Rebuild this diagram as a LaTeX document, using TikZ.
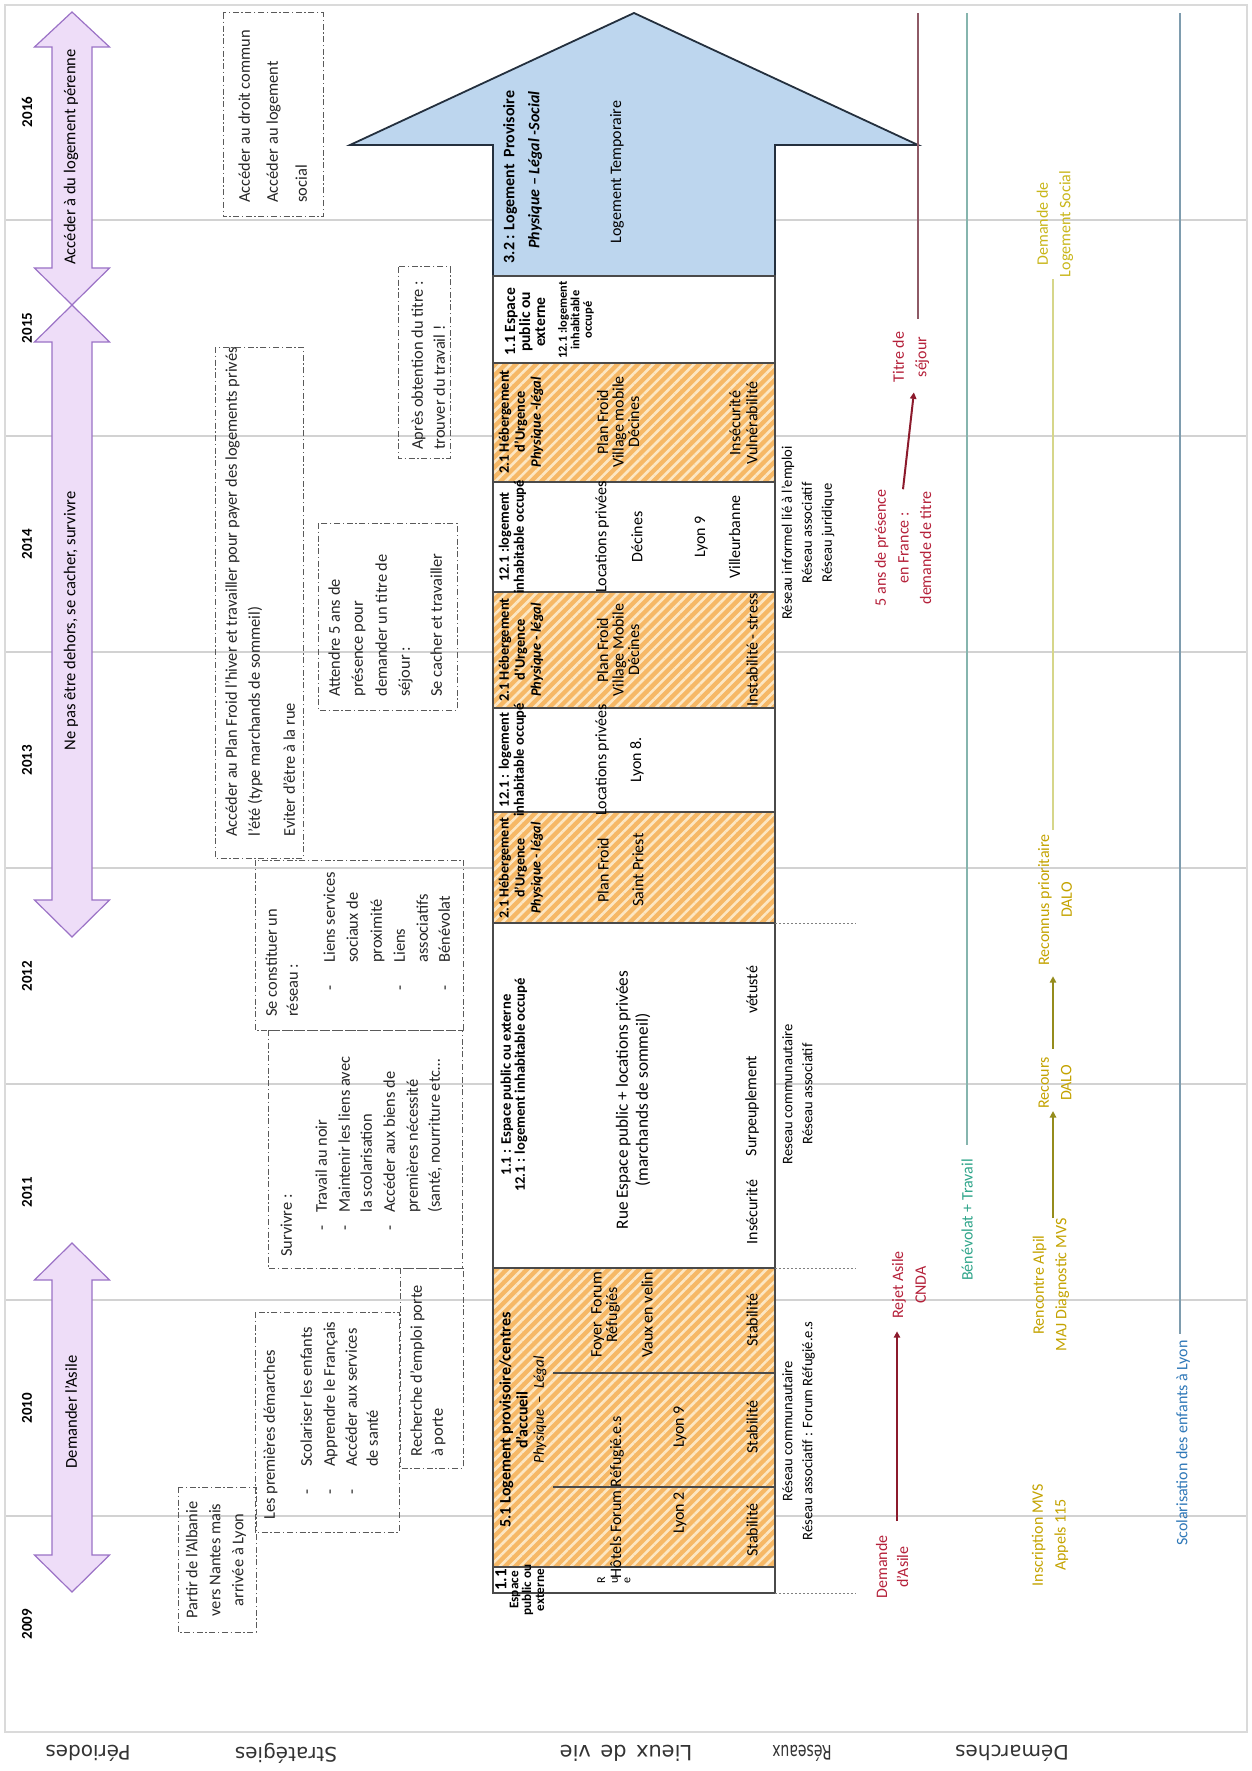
\documentclass[tikz,border=0pt]{standalone}
\usepackage{fontspec}
\usepackage{graphicx}
\setmainfont{Carlito}
\newfontfamily\rowfont{DejaVu Sans}
\usetikzlibrary{patterns.meta,arrows.meta}

\definecolor{gridc}{HTML}{D2D2D2}
\definecolor{framec}{HTML}{DADADA}
\definecolor{purfill}{HTML}{EEDDF8}
\definecolor{purline}{HTML}{9B72C6}
\definecolor{boxc}{HTML}{5A5A5A}
\definecolor{cellc}{HTML}{4A4A4A}
\definecolor{orangec}{HTML}{F6B866}
\definecolor{stripec}{HTML}{FCE7C4}
\definecolor{bluefill}{HTML}{BDD6EE}
\definecolor{bluedge}{HTML}{24303E}
\definecolor{redtxt}{HTML}{B5213A}
\definecolor{redarr}{HTML}{8C1A2C}
\definecolor{redln}{HTML}{8E5A66}
\definecolor{tealtxt}{HTML}{2FA58A}
\definecolor{tealln}{HTML}{86B5AE}
\definecolor{olivetxt}{HTML}{C4A300}
\definecolor{olivearr}{HTML}{958C1C}
\definecolor{oliveln}{HTML}{D6D68A}
\definecolor{lstxt}{HTML}{C9B61A}
\definecolor{bluetxt}{HTML}{2F78B8}
\definecolor{blueln}{HTML}{7E9CAE}

\tikzset{
  gridline/.style={draw=gridc, line width=0.6pt},
  perarrow/.style={draw=purline, fill=purfill, line width=0.6pt, line join=miter},
  pertext/.style={rotate=90, anchor=center, inner sep=0pt, font=\fontsize{8.3}{10}\selectfont},
  yearlbl/.style={rotate=90, anchor=center, inner sep=0pt, font=\fontsize{7.5}{9}\selectfont\bfseries},
  rowlbl/.style={rotate=180, anchor=center, inner sep=0pt, font=\rowfont\fontsize{10}{12}\selectfont, text=black!80},
  stratbox/.style={draw=boxc, line width=0.5pt, dash pattern=on 3pt off 1.3pt on 0.7pt off 1.3pt},
  sline/.style={rotate=90, anchor=mid west, inner sep=0pt, font=\fontsize{8.2}{10}\selectfont, text=black!85},
  sbullet/.style={rotate=90, anchor=mid, inner sep=0pt, font=\fontsize{8.2}{10}\selectfont, text=black!85},
  cellwhite/.style={fill=white},
  cellhatch/.style={fill=orangec, postaction={pattern={Lines[angle=45,distance=3.6pt,line width=1.3pt]}, pattern color=stripec}},
  cellrule/.style={draw=cellc, line width=0.6pt},
  dotext/.style={draw=gray, line width=0.5pt, dash pattern=on 1.2pt off 0.8pt},
  ctext/.style={rotate=90, anchor=center, inner sep=0pt, align=center, font=\fontsize{8}{7.75}\selectfont},
  hdr/.style={rotate=90, anchor=center, inner sep=0pt, align=center, font=\fontsize{7.2}{8}\selectfont\bfseries},
  res/.style={rotate=90, anchor=center, inner sep=0pt, align=center, font=\fontsize{7.3}{10}\selectfont},
  dem/.style={rotate=90, anchor=center, inner sep=0pt, align=center, font=\fontsize{8}{11.3}\selectfont},
  redarrow/.style={draw=redarr, line width=1pt, -{Triangle[length=3.2pt,width=3.2pt]}},
  redline/.style={draw=redln, line width=0.6pt},
  tealline/.style={draw=tealln, line width=0.6pt},
  olivearrow/.style={draw=olivearr, line width=1pt, -{Triangle[length=3.2pt,width=3.2pt]}},
  oliveline/.style={draw=oliveln, line width=0.6pt},
  bluevline/.style={draw=blueln, line width=0.6pt},
}

\begin{document}
\begin{tikzpicture}[x=0.5pt, y=-0.5pt]
\useasboundingbox (0,0) rectangle (1252,1771);
\fill[white] (0,0) rectangle (1252,1771);

% year grid and frame
\foreach \y in {220,436,652,868,1084,1300,1516}
  \draw[gridline] (5,\y) -- (1247,\y);
\draw[draw=framec, line width=0.6pt] (5,5) rectangle (1247,1732);

% years
\foreach \yr/\y in {2016/112,2015/328,2014/544,2013/760,2012/976,2011/1192,2010/1408,2009/1624}
  \node[yearlbl] (yr\yr) at (27,\y) {\yr};

% row titles under the frame
\node[rowlbl] (rowper) at (88,1753) {Périodes};
\node[rowlbl] (rowstr) at (286,1753) {Stratégies};
\node[rowlbl, font=\rowfont\fontsize{10.5}{12}\selectfont] (rowlieu) at (626,1753) {Lieux\hspace{0.45em}de\hspace{0.45em}vie};
\node[rowlbl] (rowres) at (802,1753) {\scalebox{0.7}[1]{Réseaux}};
\node[rowlbl] (rowdem) at (1012,1753) {Démarches};

% periods: double arrows
\path[perarrow] (72,12) -- (109.5,47) -- (92,47) -- (92,268) -- (109.5,268) -- (72,305)
  -- (34.5,268) -- (52,268) -- (52,47) -- (34.5,47) -- cycle;
\path[perarrow] (72,305) -- (109.5,342) -- (92,342) -- (92,900) -- (109.5,900) -- (72,937)
  -- (34.5,900) -- (52,900) -- (52,342) -- (34.5,342) -- cycle;
\path[perarrow] (72,1243) -- (109.5,1280) -- (92,1280) -- (92,1555) -- (109.5,1555) -- (72,1592)
  -- (34.5,1555) -- (52,1555) -- (52,1280) -- (34.5,1280) -- cycle;
\node[pertext] (per1) at (71,157) {Accéder à du logement pérenne};
\node[pertext] (per2) at (71,621) {Ne pas être dehors, se cacher, survivre};
\node[pertext] (per3) at (71,1412) {Demander l'Asile};

% strategies: dashed boxes
\draw[stratbox] (223,13) rectangle (323,217);
\foreach \x/\t [count=\i] in {245/{Accéder au droit commun},273/{Accéder au logement},302/social}
  \node[sline] (sa\i) at (\x,203) {\t};

\draw[stratbox] (215,347) rectangle (303,858);
\foreach \x/\t [count=\i] in {232/{Accéder au Plan Froid l'hiver et travailler pour payer des logements privés},255/{l'été (type marchands de sommeil)},290/{Eviter d'être à la rue}}
  \node[sline] (sb\i) at (\x,837) {\t};

\draw[stratbox] (398,267) rectangle (450,458);
\foreach \x/\t [count=\i] in {418/{Après obtention du titre :},440/{trouver du travail !}}
  \node[sline] (sc\i) at (\x,450) {\t};

\draw[stratbox] (318,523) rectangle (457,710);
\foreach \x/\t [count=\i] in {335/{Attendre 5 ans de},358/{présence pour},382/{demander un titre de},405/{séjour :},437/{Se cacher et travailler}}
  \node[sline] (sd\i) at (\x,697) {\t};

\draw[stratbox] (255,860) rectangle (463,1030);
\foreach \x/\t [count=\i] in {272/{Se constituer un},293/{réseau :}}
  \node[sline] (se\i) at (\x,1017) {\t};
\foreach \x/\t [count=\i] in {330/{Liens services},353/{sociaux de},377/{proximité},400/{Liens},423/{associatifs},445/{Bénévolat}}
  \node[sline] (sel\i) at (\x,963) {\t};
\foreach \x [count=\i] in {330,400,445}
  \node[sbullet] (seb\i) at (\x,988) {-};

\draw[stratbox] (268,1030) rectangle (462,1268);
\node[sline] (sf0) at (287,1257) {Survivre :};
\foreach \x/\t [count=\i] in {322/{Travail au noir},345/{Maintenir les liens avec},367/{la scolarisation},390/{Accéder aux biens de},413/{premières nécessité},435/{(santé, nourriture etc…}}
  \node[sline] (sfl\i) at (\x,1213) {\t};
\foreach \x [count=\i] in {322,345,390}
  \node[sbullet] (sfb\i) at (\x,1228) {-};

\draw[stratbox] (400,1268) rectangle (463,1468);
\foreach \x/\t [count=\i] in {417/{Recherche d'emploi porte},438/{à porte}}
  \node[sline] (sg\i) at (\x,1457) {\t};

\draw[stratbox] (255,1312) rectangle (399,1532);
\node[sline] (sh0) at (270,1520) {Les premières démarches};
\foreach \x/\t [count=\i] in {307/{Scolariser les enfants},330/{Apprendre le Français},352/{Accéder aux services},373/{de santé}}
  \node[sline] (shl\i) at (\x,1467) {\t};
\foreach \x [count=\i] in {307,330,352}
  \node[sbullet] (shb\i) at (\x,1492) {-};

\draw[stratbox] (178,1487) rectangle (256,1632);
\node[sline, anchor=center, align=center, font=\fontsize{8.2}{11.5}\selectfont] (si) at (216,1560)
  {Partir de l'Albanie\\vers Nantes mais\\arrivée à Lyon};

% living places: arrow of the last period
\path[draw=bluedge, fill=bluefill, line width=0.9pt, line join=miter]
  (634,13) -- (918,145) -- (775,145) -- (775,276) -- (493,276) -- (493,145) -- (350,145) -- cycle;
\node[ctext, font=\fontsize{8}{10}\selectfont\bfseries] (l32a) at (510,177) {3.2 : Logement \ Provisoire};
\node[ctext, font=\fontsize{8}{10}\selectfont\bfseries\itshape] (l32b) at (535,170) {Physique – Légal -Social};
\node[ctext] (l32c) at (617,172) {Logement Temporaire};

% living places: cells
\foreach \a/\b in {276/363,482/592,708/812,923/1268,1567/1593}
  \path[cellwhite] (493,\a) rectangle (775,\b);
\foreach \a/\b in {363/482,592/708,812/923,1268/1567}
  \path[cellhatch] (493,\a) rectangle (775,\b);
\foreach \a/\b in {276/363,363/482,482/592,592/708,708/812,812/923,923/1268,1268/1567,1567/1593}
  \draw[cellrule] (493,\a) rectangle (775,\b);
\draw[cellrule] (553,1373) -- (775,1373);
\draw[cellrule] (553,1487) -- (775,1487);
\foreach \y in {923,1268,1593}
  \draw[dotext] (775,\y) -- (856,\y);

% cell 2015 (white)
\node[hdr, font=\fontsize{7.8}{7.5}\selectfont\bfseries] (c1a) at (525,322) {1.1 Espace\\public ou\\externe};
\node[hdr, font=\fontsize{6.2}{6.3}\selectfont\bfseries] (c1b) at (576,320) {12.1 :logement\\inhabitable\\occupé};

% cell 2014-2015 (hatched)
\node[hdr] (c2a) at (521,422) {2.1 Hébergement\\d'Urgence\\{\itshape Physique -légal}};
\node[ctext] (c2b) at (618,422) {Plan Froid\\Village mobile\\Décines};
\node[ctext, font=\fontsize{8}{8.5}\selectfont] (c2c) at (743.5,423) {Insécurité\\Vulnérabilité};

% cell 2014 (white)
\node[hdr, font=\fontsize{7.2}{7.5}\selectfont\bfseries] (c3a) at (512.5,537) {12.1 :logement\\inhabitable occupé};
\node[ctext] (c3b) at (602,537) {Locations privées};
\node[ctext] (c3c) at (637,537) {Décines};
\node[ctext, font=\fontsize{8}{17.5}\selectfont] (c3d) at (717.5,537) {Lyon 9\\Villeurbanne};

% cell 2013-2014 (hatched)
\node[hdr] (c4a) at (521,650) {2.1 Hébergement\\d'Urgence\\{\itshape Physique - légal}};
\node[ctext] (c4b) at (618,650) {Plan Froid\\Village Mobile\\Décines};
\node[ctext] (c4c) at (752,650) {Instabilité - stress};

% cell 2013 (white)
\node[hdr, font=\fontsize{7.2}{7.5}\selectfont\bfseries] (c5a) at (512.5,760) {12.1 : logement\\inhabitable occupé};
\node[ctext] (c5b) at (602,760) {Locations privées};
\node[ctext] (c5c) at (637,760) {Lyon 8.};

% cell 2012-2013 (hatched)
\node[hdr, font=\fontsize{7}{8}\selectfont\bfseries] (c6a) at (521,868) {2.1 Hébergement\\d'Urgence\\{\itshape Physique - légal}};
\node[ctext] (c6b) at (603,870) {Plan Froid};
\node[ctext] (c6c) at (638,870) {Saint Priest};

% cell 2010-2012 (white)
\node[hdr, font=\fontsize{7.3}{7}\selectfont\bfseries] (c7a) at (514,1085) {1.1 : Espace public ou externe\\12.1 : logement inhabitable occupé};
\node[ctext, font=\fontsize{8.6}{10}\selectfont] (c7b) at (633,1100) {Rue Espace public + locations privées\\(marchands de sommeil)};
\node[ctext] (c7c) at (752,1212) {Insécurité};
\node[ctext] (c7d) at (752,1106) {Surpeuplement};
\node[ctext] (c7e) at (752,990) {vétusté};

% cell 2009-2010 (hatched)
\node[hdr, font=\fontsize{8}{8.5}\selectfont\bfseries] (c8a) at (513.5,1420) {5.1 Logement provisoire/centres\\d'accueil};
\node[ctext, font=\fontsize{7.5}{8}\selectfont\itshape] (c8b) at (540,1410) {Physique \ – \ Légal};
\node[ctext] (c8c) at (605.5,1315) {Foyer \ Forum\\Réfugiés};
\node[ctext] (c8d) at (647,1315) {Vaux en velin};
\node[ctext] (c8e) at (752,1320) {Stabilité};
\node[ctext] (c8f) at (617,1497) {Hôtels Forum Réfugié.e.s};
\node[ctext] (c8g) at (680,1427) {Lyon 9};
\node[ctext] (c8h) at (752,1427) {Stabilité};
\node[ctext] (c8i) at (680,1513) {Lyon 2};
\node[ctext] (c8j) at (752,1530) {Stabilité};

% cell 2009 (white)
\node[hdr, font=\fontsize{8.5}{8.5}\selectfont\bfseries] (c9a) at (501,1580) {1.1};
\node[hdr, font=\fontsize{6.6}{6.4}\selectfont\bfseries] (c9b) at (527,1590) {Espace\\public ou\\externe};
\node[ctext, font=\fontsize{6}{6.3}\selectfont] (c9c) at (614,1580) {R\\u\\e};

% networks
\node[res] (res1) at (808,533) {Réseau informel lié à l'emploi\\Réseau associatif\\Réseau juridique};
\node[res] (res2) at (797.5,1094) {Reseau communautaire\\Réseau associatif};
\node[res] (res3) at (798.5,1431) {Réseau communautaire\\Réseau associatif : Forum Réfugié.e.s};

% procedures
\node[dem, text=redtxt, font=\fontsize{8}{10.5}\selectfont] (dasile) at (892,1567) {Demande\\d'Asile};
\node[dem, text=redtxt] (rejet) at (909,1285) {Rejet Asile\\CNDA};
\node[dem, text=redtxt] (cinqans) at (903,548) {5 ans de présence\\en France :\\demande de titre};
\node[dem, text=redtxt] (titre) at (911,357) {Titre de\\séjour};
\node[dem, text=tealtxt] (benev) at (967,1220) {Bénévolat + Travail};
\node[dem, text=olivetxt] (insc) at (1050,1535) {Inscription MVS\\Appels 115};
\node[dem, text=olivetxt] (renc) at (1051,1285) {Rencontre Alpil\\MAJ Diagnostic MVS};
\node[dem, text=olivetxt] (recours) at (1055,1083) {Recours\\DALO};
\node[dem, text=olivetxt] (reconnus) at (1055,900) {Reconnus prioritaire\\DALO};
\node[dem, text=lstxt] (demls) at (1055,224) {Demande de\\Logement Social};
\node[dem, text=bluetxt] (scol) at (1183,1443) {Scolarisation des enfants à Lyon};

\coordinate (redtop) at (918,13);
\coordinate (tealtop) at (968,13);
\coordinate (bluetop) at (1180,13);

\coordinate (da1) at ([xshift=2.5pt]dasile.east);
\draw[redarrow, shorten <=7pt, shorten >=6pt] (da1) -- (da1 |- rejet.west);
\draw[redarrow, shorten >=5pt] (cinqans.east) -- ([xshift=2pt]titre.west);
\coordinate (ti1) at ([xshift=3.5pt]titre.east);
\draw[redline, shorten <=6.5pt] (ti1) -- (ti1 |- redtop);

\draw[tealline, shorten <=7pt] (benev.east) -- (benev.east |- tealtop);

\coordinate (ol1) at ([xshift=1pt]renc.east);
\draw[olivearrow, shorten >=1pt] (ol1) -- (ol1 |- recours.west);
\coordinate (ol2) at ([xshift=-1pt]recours.east);
\draw[olivearrow, shorten <=4pt, shorten >=5pt] (ol2) -- (ol2 |- reconnus.west);
\coordinate (ol3) at ([xshift=-1pt]reconnus.east);
\draw[oliveline, shorten <=2pt, shorten >=1pt] (ol3) -- (ol3 |- demls.west);

\coordinate (sc1) at ([xshift=-1.5pt]scol.east);
\draw[bluevline, shorten <=3pt] (sc1) -- (sc1 |- bluetop);
\end{tikzpicture}
\end{document}
